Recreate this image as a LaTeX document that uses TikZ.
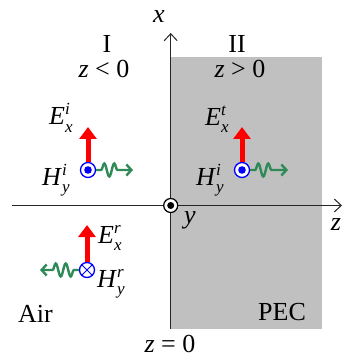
\documentclass[tikz,border=0pt]{standalone}
\usepackage{fontspec}
\setmainfont{Liberation Serif}
\usetikzlibrary{arrows.meta,decorations.pathmorphing}
\definecolor{pecgray}{RGB}{192,192,192}
\definecolor{wavegreen}{RGB}{46,139,87}
\newcommand\fieldlab[3]{\textit{#1}\rlap{\raisebox{10pt}{\fontsize{17}{17}\selectfont\textit{#3}}}\raisebox{-7pt}{\fontsize{17}{17}\selectfont\textit{#2}}}
\begin{document}
\begin{tikzpicture}[x=1pt,y=-1pt,
  font=\fontsize{26}{30}\selectfont,
  lab/.style={inner sep=0pt,anchor=base},
  labw/.style={inner sep=0pt,anchor=base west},
  axis/.style={line width=1pt,black!85,-{Straight Barb[length=7pt,width=13pt]}},
  efield/.style={red,line width=5pt,-{Triangle[length=12pt,width=17pt]}},
  wave/.style={wavegreen,line width=2.4pt,-{Straight Barb[length=5pt,width=11pt]},
    decorate,decoration={snake,amplitude=6.5pt,segment length=10pt,pre length=5pt,post length=12pt}},
  hdot/.style={circle,draw=blue,fill=white,line width=1.3pt,minimum size=15pt,inner sep=0pt,
    path picture={\fill[blue] (path picture bounding box.center) circle (3.8pt);}},
  hcross/.style={circle,draw=blue,fill=white,line width=1.3pt,minimum size=15pt,inner sep=0pt,
    path picture={\draw[blue,line width=1pt] (path picture bounding box.north west) -- (path picture bounding box.south east)
      (path picture bounding box.north east) -- (path picture bounding box.south west);}},
  origin/.style={circle,draw=black,fill=white,line width=1.2pt,minimum size=14pt,inner sep=0pt,
    path picture={\fill[black] (path picture bounding box.center) circle (3.5pt);}}]
\useasboundingbox (0,0) rectangle (349,358);
\fill[pecgray] (171,57) rectangle (322,329);
% axes
\coordinate (xbot) at (170.7,329);
\coordinate (xtop) at (170.7,33);
\coordinate (zl) at (12,205.5);
\coordinate (zr) at (342,205.5);
\draw[axis] (zl) -- (zr);
\draw[axis] (xbot) -- (xtop);
\node[origin] (o) at (170.7,205.5) {};
% incident
\node[hdot] (hi) at (88,170) {};
\coordinate (ei) at (88,127);
\coordinate (wi) at (133,170);
\draw[efield] (hi.north) -- (ei);
\draw[wave] (hi.east) -- (wi);
% transmitted
\node[hdot] (ht) at (242,170) {};
\coordinate (et) at (242,127);
\coordinate (wt) at (288,170);
\draw[efield] (ht.north) -- (et);
\draw[wave] (ht.east) -- (wt);
% reflected
\node[hcross] (hr) at (87,270) {};
\coordinate (er) at (87,225);
\coordinate (wr) at (40,270);
\draw[efield] (hr.north) -- (er);
\draw[wave] (hr.west) -- (wr);
% labels
\node[lab] (lx) at (159,23) {\textit{x}};
\node[lab] (lz) at (336,230) {\textit{z}};
\node[lab] (ly) at (190,223) {\textit{y}};
\node[lab] (lI) at (107,53) {I};
\node[lab] (lzl) at (104,78) {\textit{z} < 0};
\node[lab] (lII) at (237,53) {II};
\node[lab] (lzg) at (240,78) {\textit{z} > 0};
\node[labw] (lEi) at (49,125) {\fieldlab{E}{x}{i}};
\node[labw] (lHi) at (42,185) {\fieldlab{H}{y}{i}};
\node[labw] (lEt) at (205,126) {\fieldlab{E}{x}{t}};
\node[labw] (lHt) at (196,185) {\fieldlab{H}{y}{i}};
\node[labw] (lEr) at (98,243) {\fieldlab{E}{x}{r}};
\node[labw] (lHr) at (97,287) {\fieldlab{H}{y}{r}};
\node[labw] (lair) at (18,322) {Air};
\node[labw] (lpec) at (258,320) {PEC};
\node[lab] (lz0) at (170,352) {\textit{z} = 0};
\end{tikzpicture}
\end{document}
